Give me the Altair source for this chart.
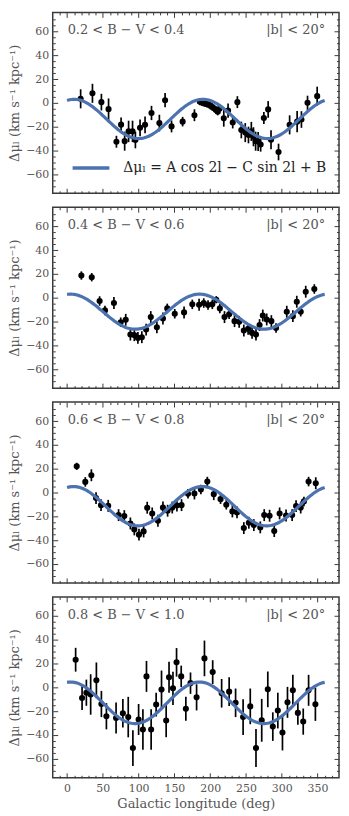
import altair as alt
import pandas as pd
import numpy as np

FONT = "DejaVu Serif"
TXT = "#555555"
BLUE = "#4c72b0"
FRAME = "#3a3a3a"

panel_labels = ["0.2 < B − V < 0.4", "0.4 < B − V < 0.6",
                "0.6 < B − V < 0.8", "0.8 < B − V < 1.0"]
lat_label = "|b| < 20°"
legend_label = "Δμₗ = A cos 2l − C sin 2l + B"
y_title = "Δμₗ (km s⁻¹ kpc⁻¹)"
x_title = "Galactic longitude (deg)"

# ---- panel 1: 0.2 < B-V < 0.4
p1_l = [19, 35.5, 48, 58, 69, 75.5, 80.5, 86, 91.5, 95.5, 102, 109, 118, 129, 137,
        146, 161.5, 178, 185.5, 188, 190.5, 193, 195.5, 198, 200.5, 203, 205.5, 208,
        210.5, 213, 219, 225, 231.5, 238, 243.5, 249, 253.5, 257.5, 260.5, 263.5, 267,
        270.5, 275, 281, 285, 295.5, 311, 321.5, 327.5, 336, 349.5]
p1_v = [3.4, 8, 0.6, -5.3, -32.7, -18.3, -32.2, -24, -24, -31.2, -21, -18.5, -8.5, -17,
        2.2, -19.8, -15.8, -10.4, 1, 0.5, 0, -0.5, -1, -1.5, -2.5, -3.5, -4.5, -6, -7.5,
        -5, -13, -6.5, -16.5, 0.6, -22.8, -25, -27, -24, -28.5, -32.2, -32.4, -35, -12.7,
        -5.5, -31, -41.3, -18.5, -15.8, -14, 0, 5.6]
p1_e = [8, 8, 7, 9, 5, 6, 8, 9, 9, 7, 7, 7, 6, 7, 6, 5, 4, 5, 3, 3, 3, 3, 3, 3, 3, 3, 3,
        3, 3, 4, 7, 6, 5, 5, 7, 8, 7, 8, 8, 8, 8, 6, 5, 7, 8, 7, 8, 9, 7, 6, 8]

# ---- panel 2: 0.4 < B-V < 0.6
p2_l = [20, 34.5, 45.5, 53, 65.5, 75, 82, 88.5, 94, 99, 104.5, 110.5, 117, 125.5, 134,
        140, 150.5, 163.5, 175, 184.5, 191, 197, 203, 208.5, 213.5, 220, 226.5, 234,
        240.5, 247, 253, 258.5, 264, 269, 273.5, 279, 285.5, 292, 307, 315.5, 321,
        326.5, 333.5, 345.5]
p2_v = [18.6, 17.2, -2.8, -10.7, -4.5, -20.6, -18.6, -31, -31.5, -33.8, -33.2, -26.8,
        -16.3, -24.8, -17.5, -9, -13.5, -12.4, -5.6, -5.9, -4.5, -6.2, -5.6, -1.7, -9,
        -16.3, -14, -19.7, -20.3, -27.6, -26.2, -29.6, -31, -23, -15, -18.3, -19.7,
        -25.4, -11.8, -15.5, -3.4, -11.8, 5, 7.3]
p2_e = [3.5, 3.5, 4, 4, 5, 4, 5, 5, 5, 5, 5, 5, 5, 5, 5, 4, 4, 5, 4, 5, 4, 4, 4, 3, 4,
        5, 4, 5, 5, 5, 5, 5, 5, 5, 5, 5, 5, 4, 5, 5, 5, 4, 5, 4]

# ---- panel 3: 0.6 < B-V < 0.8
p3_l = [13.5, 25.5, 34, 40.5, 47.5, 57.5, 72, 80, 88.5, 94, 100.5, 107, 112, 119, 127,
        134, 140.5, 147, 153.5, 160, 169, 178, 187, 196, 205, 214.5, 222.5, 231, 237.5,
        247, 254, 261, 270, 275.5, 283, 289.5, 297, 306, 314.5, 320, 326.5, 331, 337.5,
        347.5]
p3_v = [22, 8.9, 14.5, -4.7, -10.6, -11.2, -19, -19.8, -26, -31, -35.4, -32.7, -12.8,
        -17.6, -23.7, -12.6, -15.3, -12.6, -10.9, -10.6, -1.1, -0.8, 2.5, 9.2, -1.4,
        -5.6, -10.3, -15.9, -16.7, -29.9, -25.4, -27.4, -29.3, -19, -19.5, -32.4, -17.6,
        -19.3, -19, -11.4, -12.6, -7.5, 9.2, 7.8]
p3_e = [3, 4, 5, 5, 5, 5, 5, 5, 5, 5, 5, 5, 5, 5, 5, 5, 5, 5, 5, 5, 4, 5, 4, 4, 5, 4, 4,
        5, 5, 5, 5, 5, 5, 5, 5, 5, 5, 5, 5, 5, 5, 4, 4, 5]

# ---- panel 4: 0.8 < B-V < 1.0
p4_l = [12, 21, 27, 33, 41, 48, 55, 68.5, 78, 85.5, 92, 100, 106, 111, 117.5, 124.5,
        132, 138.5, 142.5, 148, 153, 159.5, 166, 172.5, 181, 192, 203.5, 216, 226.5,
        235.5, 246, 256, 264, 272, 280.5, 287.5, 294.5, 301, 308, 315.5, 322.5, 330,
        337.5, 347]
p4_v = [23.2, -9, -4.5, -6, 5.9, -14, -24.3, -25.8, -21.8, -25, -51, -27, -35.4, 9.2,
        -35.4, -14.5, -1.9, -27.9, 8.4, -0.8, 21, 9.2, -18, 3.5, -8.4, 24.3, 12.8, -5,
        -3.6, -13, -25, -16, -51, -27.7, -1.7, -33, -19.5, -38, -12.6, -2.5, -21.5,
        -28.8, -2.5, -14.2]
p4_e = [10, 10, 11, 17, 15, 11, 11, 13, 12, 17, 15, 13, 17, 13, 17, 10, 16, 14, 13, 14,
        12, 9, 10, 9, 11, 15, 10, 12, 12, 12, 15, 15, 16, 18, 15, 12, 15, 15, 13, 13,
        10, 11, 13, 14]

# fitted model parameters
fit_A = [15.5, 14.5, 15.7, 17.2]
fit_B = [-13.5, -11.75, -11.5, -13.0]
fit_C = [-5.6, -2.6, -5.1, -3.0]

L = [p1_l, p2_l, p3_l, p4_l]
V = [p1_v, p2_v, p3_v, p4_v]
E = [p1_e, p2_e, p3_e, p4_e]

XDOM = [-20, 380]
YDOM = [-76, 76]
X_MAJOR = list(range(0, 351, 50))
X_MINOR = [v for v in range(-10, 371, 10) if v % 50]
Y_MAJOR = list(range(-60, 61, 20))
Y_MINOR = [v for v in range(-70, 71, 5) if v % 20]

W, H = 288, 182


def tick_axis(orient, values, size):
    return alt.Axis(orient=orient, values=values, tickSize=size, offset=-size,
                    domain=False, grid=False, labels=False, title=None,
                    tickColor=FRAME, tickWidth=1)


def panel(i):
    last = i == 3
    df = pd.DataFrame({"l": L[i], "v": V[i]})
    df["lo"] = df["v"] - np.array(E[i])
    df["hi"] = df["v"] + np.array(E[i])
    grid = np.linspace(0, 360, 181)
    rad = np.deg2rad(2 * grid)
    cdf = pd.DataFrame({"l": grid,
                        "m": fit_A[i] * np.cos(rad) - fit_C[i] * np.sin(rad) + fit_B[i],
                        "name": legend_label})

    xs = alt.Scale(domain=XDOM, nice=False, zero=False)
    ys = alt.Scale(domain=YDOM, nice=False, zero=False)

    bottom_kw = dict(orient="bottom", values=X_MAJOR, tickSize=5, offset=-5,
                     domain=False, grid=False, tickColor=FRAME, tickWidth=1,
                     labels=last, labelFont=FONT, labelFontSize=11, labelColor=TXT,
                     labelPadding=5)
    if last:
        bottom_kw.update(title=x_title, titleFont=FONT, titleFontSize=13,
                         titleFontWeight="normal", titleColor=TXT, titlePadding=4)
    else:
        bottom_kw.update(title=None)
    bottom = alt.Axis(**bottom_kw)
    left = alt.Axis(orient="left", values=Y_MAJOR, tickSize=5, offset=-5,
                    domain=False, grid=False, tickColor=FRAME, tickWidth=1,
                    labelFont=FONT, labelFontSize=11, labelColor=TXT, labelPadding=4,
                    title=y_title, titleFont=FONT, titleFontSize=13,
                    titleFontWeight="normal", titleColor=TXT, titlePadding=4)

    base = alt.Chart(df)
    err = base.mark_rule(color="black", strokeWidth=1.7).encode(
        x=alt.X("l:Q", scale=xs, axis=bottom),
        y=alt.Y("lo:Q", scale=ys, axis=left),
        y2="hi:Q")
    ghost = base.mark_point(opacity=0).encode(
        x=alt.X("l:Q", scale=xs, axis=tick_axis("top", X_MINOR, 2.5)),
        y=alt.Y("v:Q", scale=ys, axis=tick_axis("right", Y_MINOR, 2.5)))
    pts = base.mark_circle(size=38, color="black", opacity=1).encode(
        x=alt.X("l:Q", scale=xs, axis=tick_axis("top", X_MAJOR, 5)),
        y=alt.Y("v:Q", scale=ys, axis=tick_axis("right", Y_MAJOR, 5)))

    cbase = alt.Chart(cdf)
    cx = alt.X("l:Q", scale=xs, axis=tick_axis("bottom", X_MINOR, 2.5))
    cy = alt.Y("m:Q", scale=ys, axis=tick_axis("left", Y_MINOR, 2.5))
    if i == 0:
        curve = cbase.mark_line(strokeWidth=3.2).encode(
            x=cx, y=cy,
            color=alt.Color("name:N", scale=alt.Scale(range=[BLUE]),
                            legend=alt.Legend(title=None, orient="bottom-left",
                                              offset=16, padding=2,
                                              symbolType="stroke", symbolSize=1369,
                                              symbolStrokeWidth=3.5,
                                              labelFont=FONT, labelFontSize=14,
                                              labelColor="#222222", labelOffset=12,
                                              labelLimit=400)))
    else:
        curve = cbase.mark_line(strokeWidth=3.2, color=BLUE).encode(x=cx, y=cy)

    tdf = pd.DataFrame({"t": [panel_labels[i]], "b": [lat_label]})
    lab = alt.Chart(tdf).mark_text(align="left", baseline="middle", font=FONT,
                                   fontSize=13, color=TXT).encode(
        x=alt.value(15), y=alt.value(18), text="t:N")
    lat = alt.Chart(tdf).mark_text(align="right", baseline="middle", font=FONT,
                                   fontSize=13, color=TXT).encode(
        x=alt.value(274), y=alt.value(18), text="b:N")

    return alt.layer(err, ghost, pts, curve, lab, lat).resolve_axis(
        x="independent", y="independent").properties(width=W, height=H)


chart = alt.vconcat(*[panel(i) for i in range(4)], spacing=10).resolve_scale(
    color="independent").properties(padding=0).configure_view(
    stroke=FRAME, strokeWidth=1.5)

chart.save("out.html", embed_options={"renderer": "svg", "actions": False})
